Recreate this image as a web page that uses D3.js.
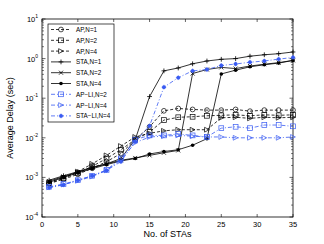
<!DOCTYPE html>
<html>
<head>
<meta charset="utf-8">
<script src="https://cdn.jsdelivr.net/npm/d3@7"></script>
<style>
  body { margin: 0; background: #fff; }
  svg { font-family: "Liberation Sans", Arial, sans-serif; }
</style>
</head>
<body>
<script>
var w = 324, h = 244;
var margin = {top: 19, left: 42, right: 31, bottom: 27};

// number of stations
var stas = [1,3,5,7,9,11,13,15,17,19,21,23,25,27,29,31,33,35];

// average delay (sec) per series
var apN1 = [7e-4,9e-4,1.2e-3,1.7e-3,2.5e-3,4e-3,9e-3,0.019,0.048,0.055,0.052,0.05,0.05,0.052,0.047,0.05,0.05,0.05];
var apN2 = [7e-4,9.5e-4,1.3e-3,1.9e-3,3e-3,5e-3,9e-3,0.014,0.028,0.033,0.034,0.036,0.037,0.038,0.036,0.038,0.037,0.038];
var apN4 = [7.5e-4,1e-3,1.4e-3,2.2e-3,3.6e-3,6.2e-3,0.0105,0.013,0.015,0.016,0.016,0.016,0.032,0.033,0.031,0.033,0.032,0.033];
var staN1 = [8.5e-4,1.1e-3,1.4e-3,1.8e-3,2.2e-3,3e-3,9e-3,0.11,0.49,0.58,0.74,0.87,0.96,1.0,1.15,1.25,1.33,1.47];
var staN2 = [8e-4,1.05e-3,1.35e-3,1.75e-3,2.2e-3,2.7e-3,3.1e-3,3.6e-3,4.2e-3,4.8e-3,0.42,0.53,0.6,0.56,0.65,0.72,0.79,0.9];
var staN4 = [7.5e-4,1e-3,1.3e-3,1.65e-3,2.1e-3,2.6e-3,3e-3,3.9e-3,4.5e-3,5e-3,6.5e-3,9.5e-3,0.41,0.51,0.62,0.7,0.77,0.9];
var apliN2 = [5.8e-4,6.8e-4,8.5e-4,1.1e-3,1.55e-3,3e-3,9e-3,0.0115,0.0115,0.0125,0.0115,0.0105,0.0175,0.019,0.0175,0.021,0.021,0.0195];
var apliN4 = [5.6e-4,6.6e-4,8.2e-4,1.05e-3,1.5e-3,2.8e-3,7.5e-3,0.0105,0.011,0.0115,0.011,0.0105,0.0105,0.01,0.01,0.01,0.01,0.0105];
var staliN4 = [5.5e-4,6.5e-4,8.5e-4,1.1e-3,1.5e-3,2.5e-3,8e-3,0.02,0.19,0.33,0.49,0.53,0.67,0.73,0.81,0.87,0.97,1.07];

var names = ['AP,N=1','AP,N=2','AP,N=4','STA,N=1','STA,N=2','STA,N=4','AP\u2212LI,N=2','AP\u2212LI,N=4','STA\u2212LI,N=4'];
var xTicks = [0,5,10,15,20,25,30,35];
var yExps = [-4,-3,-2,-1,0,1];

var blue = '#3a5cf2';
var series = [
  {name: names[0], values: apN1, color: '#000', dash: '3,2', marker: 'circle'},
  {name: names[1], values: apN2, color: '#000', dash: '3,2', marker: 'square'},
  {name: names[2], values: apN4, color: '#000', dash: '3,2', marker: 'tri'},
  {name: names[3], values: staN1, color: '#000', dash: null, marker: 'plus'},
  {name: names[4], values: staN2, color: '#000', dash: null, marker: 'cross'},
  {name: names[5], values: staN4, color: '#000', dash: null, marker: 'dot'},
  {name: names[6], values: apliN2, color: blue, dash: '4,2,1,2', marker: 'square'},
  {name: names[7], values: apliN4, color: blue, dash: '4,2,1,2', marker: 'tri'},
  {name: names[8], values: staliN4, color: blue, dash: '4,2,1,2', marker: 'star'}
];

var width = w - margin.left - margin.right;
var height = h - margin.top - margin.bottom;

var svg = d3.select('body').append('svg')
            .attr('width', w)
            .attr('height', h);

var x = d3.scaleLinear().domain([0, 35]).range([margin.left, margin.left + width]);
var y = d3.scaleLog().domain([1e-4, 10]).range([margin.top + height, margin.top]);

var plot = svg.append('g');

// frame
plot.append('rect')
    .attr('x', x(0)).attr('y', y(10))
    .attr('width', width).attr('height', height)
    .attr('fill', 'none').attr('stroke', '#000').attr('stroke-width', 0.8);

// x ticks top and bottom
xTicks.forEach(function(t){
  plot.append('line').attr('x1', x(t)).attr('x2', x(t))
      .attr('y1', y(1e-4)).attr('y2', y(1e-4) - 3).attr('stroke', '#000').attr('stroke-width', 0.6);
  plot.append('line').attr('x1', x(t)).attr('x2', x(t))
      .attr('y1', y(10)).attr('y2', y(10) + 3).attr('stroke', '#000').attr('stroke-width', 0.6);
  plot.append('text').attr('x', x(t)).attr('y', y(1e-4) + 10)
      .attr('text-anchor', 'middle').style('font-size', '7.5px').text(t);
});

// y ticks (major + minor) left and right
yExps.forEach(function(e){
  var len = 3.5;
  [x(0), x(35)].forEach(function(px, side){
    plot.append('line').attr('x1', px).attr('x2', side ? px - len : px + len)
        .attr('y1', y(Math.pow(10, e))).attr('y2', y(Math.pow(10, e)))
        .attr('stroke', '#000').attr('stroke-width', 0.6);
  });
  if (e < 1) {
    for (var k = 2; k < 10; k++) {
      var v = k * Math.pow(10, e);
      [x(0), x(35)].forEach(function(px, side){
        plot.append('line').attr('x1', px).attr('x2', side ? px - 2 : px + 2)
            .attr('y1', y(v)).attr('y2', y(v))
            .attr('stroke', '#000').attr('stroke-width', 0.5);
      });
    }
  }
  var lab = plot.append('text').attr('x', x(0) - 4).attr('y', y(Math.pow(10, e)) + 3)
      .attr('text-anchor', 'end').style('font-size', '7.5px');
  lab.append('tspan').text('10');
  lab.append('tspan').attr('dy', -4).style('font-size', '5px').text(e);
});

// axis labels
svg.append('text')
   .attr('x', margin.left + width / 2).attr('y', 237)
   .attr('text-anchor', 'middle').style('font-size', '9px')
   .text('No. of STAs');
svg.append('text')
   .attr('transform', 'translate(13,' + (margin.top + height / 2) + ') rotate(-90)')
   .attr('text-anchor', 'middle').style('font-size', '9px')
   .text('Average Delay (sec)');

function drawMarker(g, type, cx, cy, color){
  var s = 2.4;
  if (type == 'circle') {
    g.append('circle').attr('cx', cx).attr('cy', cy).attr('r', s)
     .attr('fill', 'none').attr('stroke', color).attr('stroke-width', 0.7);
  } else if (type == 'square') {
    g.append('rect').attr('x', cx - s).attr('y', cy - s).attr('width', 2 * s).attr('height', 2 * s)
     .attr('fill', 'none').attr('stroke', color).attr('stroke-width', 0.7);
  } else if (type == 'tri') {
    g.append('path').attr('d', 'M' + (cx - s) + ',' + (cy - s) + 'L' + (cx + s) + ',' + cy + 'L' + (cx - s) + ',' + (cy + s) + 'Z')
     .attr('fill', 'none').attr('stroke', color).attr('stroke-width', 0.7);
  } else if (type == 'plus') {
    g.append('path').attr('d', 'M' + (cx - s) + ',' + cy + 'H' + (cx + s) + 'M' + cx + ',' + (cy - s) + 'V' + (cy + s))
     .attr('stroke', color).attr('stroke-width', 0.8);
  } else if (type == 'cross') {
    g.append('path').attr('d', 'M' + (cx - 2) + ',' + (cy - 2) + 'L' + (cx + 2) + ',' + (cy + 2) + 'M' + (cx - 2) + ',' + (cy + 2) + 'L' + (cx + 2) + ',' + (cy - 2))
     .attr('stroke', color).attr('stroke-width', 0.8);
  } else if (type == 'dot') {
    g.append('circle').attr('cx', cx).attr('cy', cy).attr('r', 1.8).attr('fill', color);
  } else if (type == 'star') {
    g.append('circle').attr('cx', cx).attr('cy', cy).attr('r', 1.9).attr('fill', color);
    g.append('path').attr('d', 'M' + (cx - s) + ',' + cy + 'H' + (cx + s) + 'M' + cx + ',' + (cy - s) + 'V' + (cy + s))
     .attr('stroke', color).attr('stroke-width', 0.6);
  }
}

var line = d3.line()
             .x(function(d, i){ return x(stas[i]); })
             .y(function(d){ return y(d); });

series.forEach(function(s){
  var g = plot.append('g');
  g.append('path').datum(s.values)
   .attr('d', line)
   .attr('fill', 'none')
   .attr('stroke', s.color)
   .attr('stroke-width', 0.8)
   .attr('stroke-dasharray', s.dash);
  s.values.forEach(function(v, i){
    drawMarker(g, s.marker, x(stas[i]), y(v), s.color);
  });
});

// legend
var legend = svg.append('g');
legend.append('rect')
      .attr('x', 48).attr('y', 24).attr('width', 66).attr('height', 98)
      .attr('fill', '#fff').attr('stroke', '#000').attr('stroke-width', 0.7);
series.forEach(function(s, i){
  var ly = 29.5 + i * 10.8;
  legend.append('line').attr('x1', 51).attr('x2', 71).attr('y1', ly).attr('y2', ly)
        .attr('stroke', s.color).attr('stroke-width', 0.8).attr('stroke-dasharray', s.dash);
  drawMarker(legend, s.marker, 61, ly, s.color);
  legend.append('text').attr('x', 76).attr('y', ly + 2.5)
        .style('font-size', '6.3px').text(s.name);
});
</script>
</body>
</html>
